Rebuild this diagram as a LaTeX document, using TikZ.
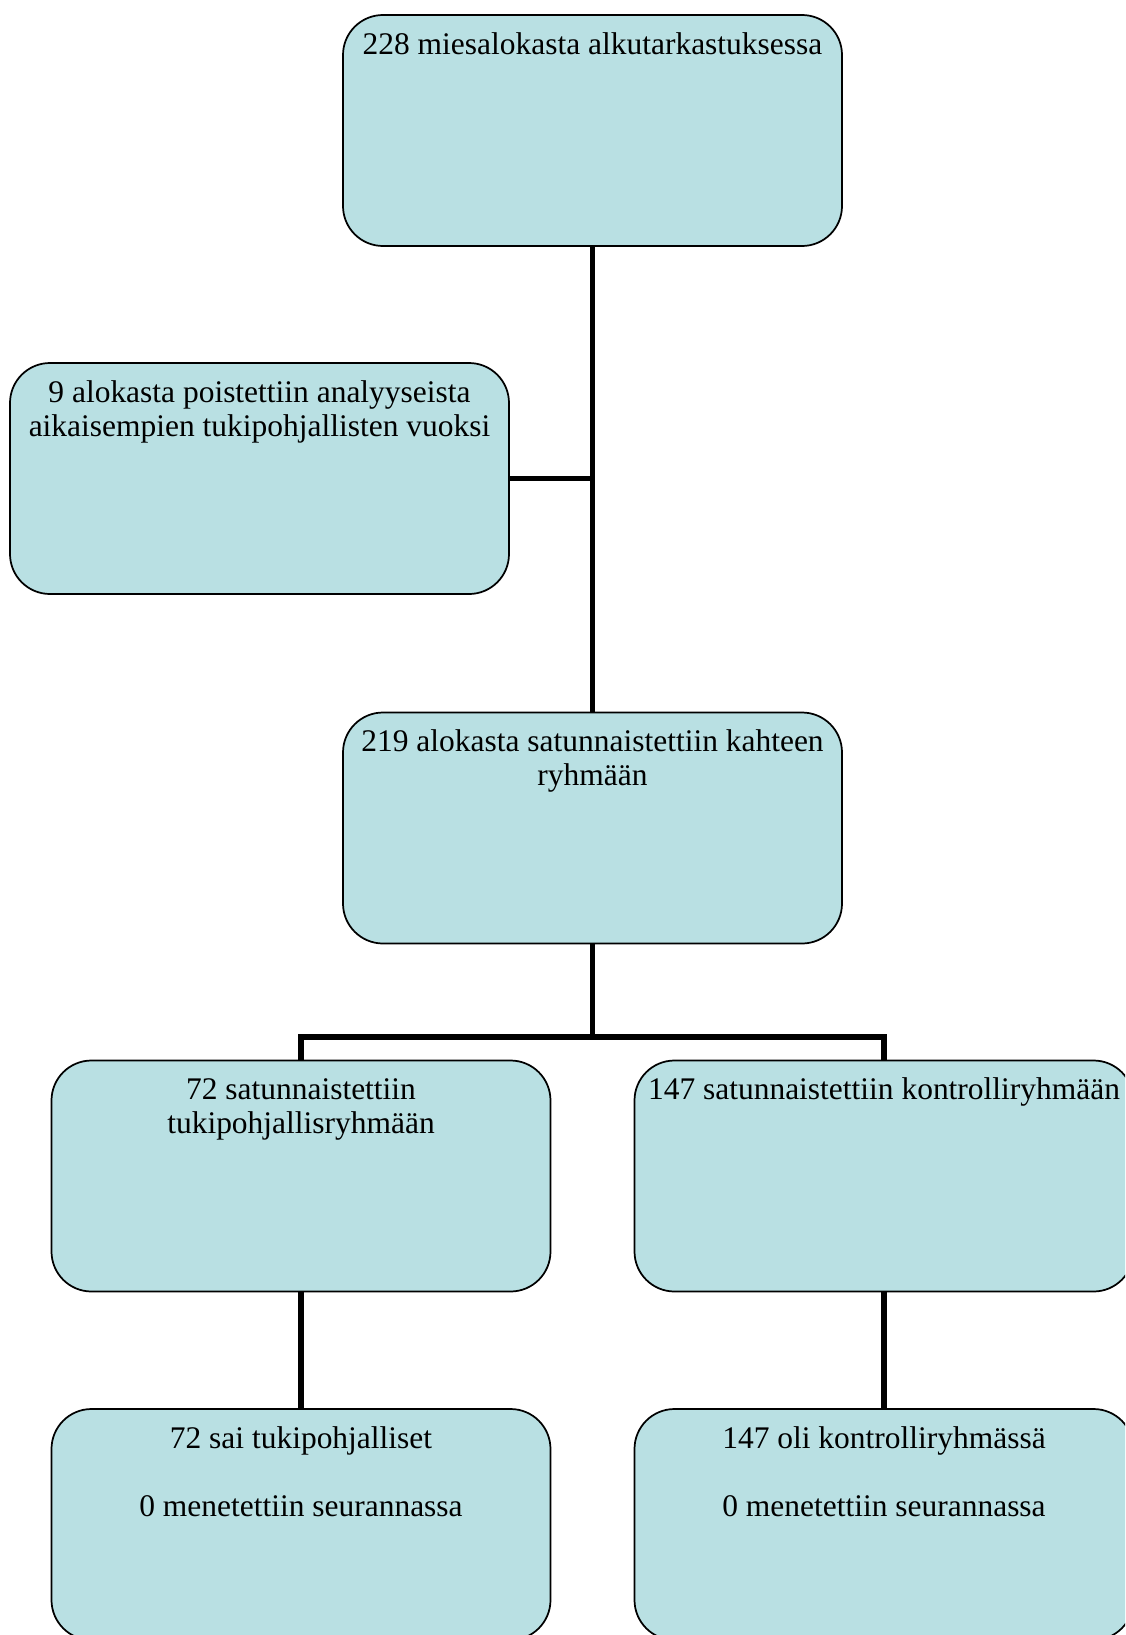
\documentclass[tikz,border=0pt]{standalone}
\usepackage{fontspec}
\setmainfont{Liberation Serif}
\definecolor{boxfill}{RGB}{185,224,227}
\newcommand{\boxtext}[1]{\parbox[c][173.25pt][t]{374pt}{\centering\fontsize{23.6}{25.8}\selectfont\vspace*{11.2pt}\strut #1}}
\tikzset{
  flowbox/.style={draw=black, line width=1.3pt, fill=boxfill, rounded corners=30pt,
    inner sep=0pt, outer sep=0pt, minimum width=374.25pt, minimum height=173.25pt},
  conn/.style={line width=4.2pt, draw=black}
}
\begin{document}
\begin{tikzpicture}[x=0.75pt,y=-0.75pt]
\useasboundingbox (0,0) rectangle (1125,1635);
\clip (0,0) rectangle (1125,1635);
\node[flowbox] (top) at (592.5,130.5) {\boxtext{228 miesalokasta alkutarkastuksessa}};
\node[flowbox] (left) at (259.5,478.5) {\boxtext{9 alokasta poistettiin analyyseista\\aikaisempien tukipohjallisten vuoksi}};
\node[flowbox] (mid) at (592.5,828) {\boxtext{219 alokasta satunnaistettiin kahteen\\ryhmään}};
\node[flowbox] (g1) at (301,1176) {\boxtext{72 satunnaistettiin\\tukipohjallisryhmään}};
\node[flowbox] (g2) at (884,1176) {\boxtext{147 satunnaistettiin kontrolliryhmään}};
\node[flowbox] (b1) at (301,1524.5) {\boxtext{72 sai tukipohjalliset\\[25.8pt]0 menetettiin seurannassa}};
\node[flowbox] (b2) at (884,1524.5) {\boxtext{147 oli kontrolliryhmässä\\[25.8pt]0 menetettiin seurannassa}};
\coordinate (split) at (592.5,1037);
\draw[conn] (top.south) -- (mid.north);
\draw[conn] (left.east) -- (left.east -| top.south);
\draw[conn] (mid.south) -- (split);
\draw[conn] (g1.north) |- (split) -| (g2.north);
\draw[conn] (g1.south) -- (b1.north);
\draw[conn] (g2.south) -- (b2.north);
\end{tikzpicture}
\end{document}
